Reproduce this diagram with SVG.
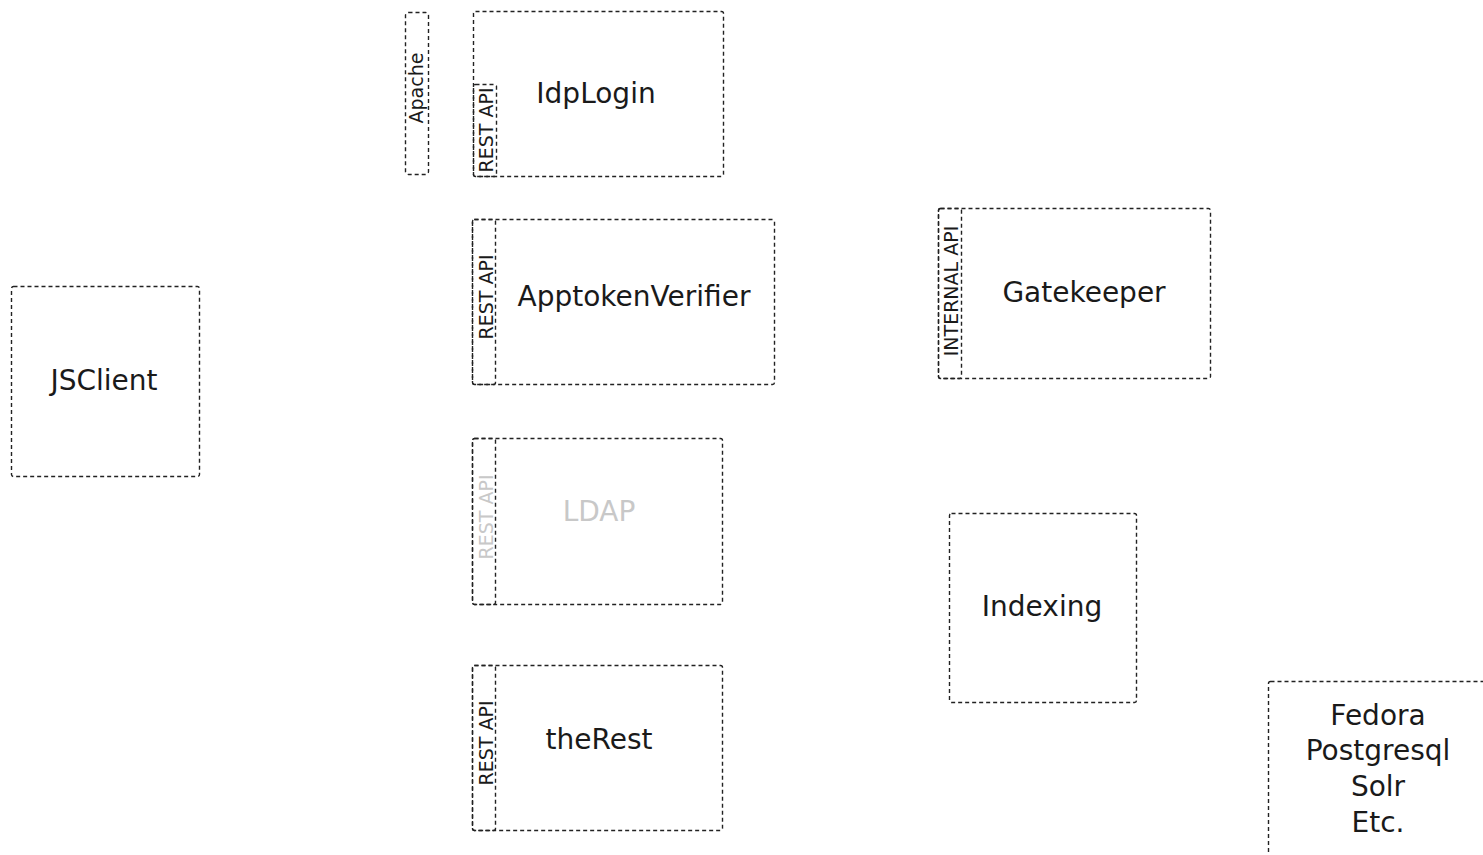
<svg xmlns="http://www.w3.org/2000/svg" width="1483" height="855" viewBox="0 0 1483 855">
  <style>
    .box { fill: none; stroke: #222; stroke-width: 1.4; stroke-dasharray: 4 3; }
    .label { font-family: "DejaVu Sans", sans-serif; font-size: 28px; fill: #1a1a1a; text-anchor: middle; }
    .api { font-family: "DejaVu Sans", sans-serif; font-size: 19px; fill: #1a1a1a; text-anchor: middle; }
    .faded { fill: #c8c8c8; }
  </style>
  <rect width="1483" height="855" fill="#fff"/>

  <g id="jsclient">
    <rect class="box" x="11.5" y="286.5" width="188" height="190" rx="2"/>
    <text class="label" x="104" y="390">JSClient</text>
  </g>

  <g id="apache">
    <rect class="box" x="405.5" y="12.5" width="23" height="162" rx="3"/>
    <text class="api" transform="translate(423,88) rotate(-90)">Apache</text>
  </g>

  <g id="idplogin">
    <rect class="box" x="473.5" y="11.5" width="250" height="165" rx="2"/>
    <rect class="box" x="473.5" y="84.5" width="23" height="92" rx="2"/>
    <text class="api" transform="translate(493,130) rotate(-90)">REST API</text>
    <text class="label" x="596" y="103">IdpLogin</text>
  </g>

  <g id="apptokenverifier">
    <rect class="box" x="472.5" y="219.5" width="302" height="165" rx="2"/>
    <rect class="box" x="472.5" y="219.5" width="23" height="165" rx="2"/>
    <text class="api" transform="translate(493,297) rotate(-90)">REST API</text>
    <text class="label" x="634" y="306">ApptokenVerifier</text>
  </g>

  <g id="ldap">
    <rect class="box" x="472.5" y="438.5" width="250" height="166" rx="2"/>
    <rect class="box" x="472.5" y="438.5" width="23" height="166" rx="2"/>
    <text class="api faded" transform="translate(493,517) rotate(-90)">REST API</text>
    <text class="label faded" x="599" y="521">LDAP</text>
  </g>

  <g id="therest">
    <rect class="box" x="472.5" y="665.5" width="250" height="165" rx="2"/>
    <rect class="box" x="472.5" y="665.5" width="23" height="165" rx="2"/>
    <text class="api" transform="translate(493,743) rotate(-90)">REST API</text>
    <text class="label" x="599" y="749">theRest</text>
  </g>

  <g id="gatekeeper">
    <rect class="box" x="938.5" y="208.5" width="272" height="170" rx="2"/>
    <rect class="box" x="938.5" y="208.5" width="23" height="170" rx="2"/>
    <text class="api" transform="translate(958,291) rotate(-90)">INTERNAL API</text>
    <text class="label" x="1084" y="302">Gatekeeper</text>
  </g>

  <g id="indexing">
    <rect class="box" x="949.5" y="513.5" width="187" height="189" rx="2"/>
    <text class="label" x="1042" y="616">Indexing</text>
  </g>

  <g id="storage">
    <rect class="box" x="1268.5" y="681.5" width="260" height="220" rx="2"/>
    <text class="label" x="1378" y="725">Fedora</text>
    <text class="label" x="1378" y="760">Postgresql</text>
    <text class="label" x="1378" y="796">Solr</text>
    <text class="label" x="1378" y="832">Etc.</text>
  </g>

  <g id="connectors"></g>
</svg>
